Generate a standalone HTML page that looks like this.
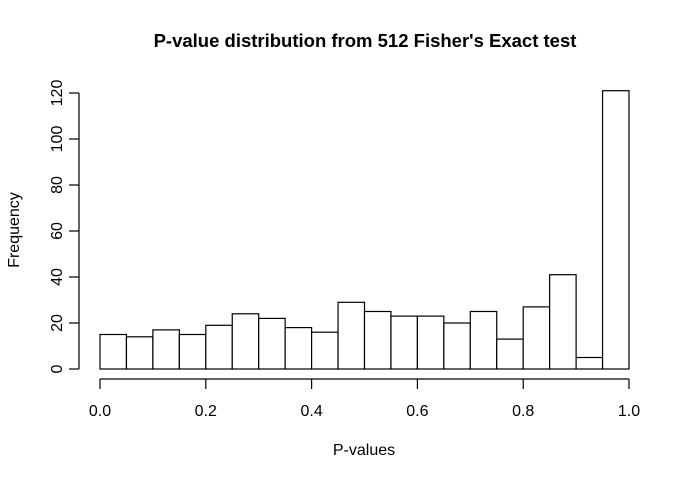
<!DOCTYPE html>
<html><head><meta charset="utf-8"><style>
body{margin:0;background:#fff}
svg text{font-family:"Liberation Sans",Arial,sans-serif;fill:#000}
</style></head><body>
<svg width="691" height="478" xmlns="http://www.w3.org/2000/svg">
<text x="365" y="47" text-anchor="middle" font-size="18.5" font-weight="bold">P-value distribution from 512 Fisher's Exact test</text>
<text x="364" y="455" text-anchor="middle" font-size="16">P-values</text>
<text transform="translate(19,230) rotate(-90)" text-anchor="middle" font-size="16">Frequency</text>
<g id="bars"></g>
<g id="xaxis"></g>
<g id="yaxis"></g>
</svg>
<script>
const binStarts=[0,0.05,0.1,0.15,0.2,0.25,0.3,0.35,0.4,0.45,0.5,0.55,0.6,0.65,0.7,0.75,0.8,0.85,0.9,0.95];
const counts=[15,14,17,15,19,24,22,18,16,29,25,23,23,20,25,13,27,41,5,121];
const xTicks=[0,0.2,0.4,0.6,0.8,1.0];
const xTickLabels=["0.0","0.2","0.4","0.6","0.8","1.0"];
const yTicks=[0,20,40,60,80,100,120];
const binWidth=0.05;
const NS="http://www.w3.org/2000/svg";
const sx=v=>100+v*529;
const sy=v=>369-v*2.3;
function mk(t,a,p){const e=document.createElementNS(NS,t);for(const k in a)e.setAttribute(k,a[k]);p.appendChild(e);return e;}
const bars=document.getElementById('bars');
binStarts.forEach((b,i)=>{
 const r=mk('rect',{x:sx(b),y:sy(counts[i]),width:sx(b+binWidth)-sx(b),height:sy(0)-sy(counts[i]),fill:'#fff',stroke:'#000','stroke-width':1.2},bars);
 
 
});
const xa=document.getElementById('xaxis');
mk('line',{x1:sx(0),x2:sx(1),y1:379,y2:379,stroke:'#000','stroke-width':1.2},xa);
xTicks.forEach((t,i)=>{
 mk('line',{x1:sx(t),x2:sx(t),y1:379,y2:389,stroke:'#000','stroke-width':1.2},xa);
 const tx=mk('text',{x:sx(t),y:416,'text-anchor':'middle','font-size':16},xa);
 tx.textContent=xTickLabels[i];
 
 
});
const ya=document.getElementById('yaxis');
mk('line',{x1:79,x2:79,y1:sy(0),y2:sy(120),stroke:'#000','stroke-width':1.2},ya);
yTicks.forEach(t=>{
 mk('line',{x1:69,x2:79,y1:sy(t),y2:sy(t),stroke:'#000','stroke-width':1.2},ya);
 const tx=mk('text',{transform:`translate(62,${sy(t)}) rotate(-90)`,'text-anchor':'middle','font-size':16},ya);
 tx.textContent=t;
 
 
});
</script>
</body></html>
